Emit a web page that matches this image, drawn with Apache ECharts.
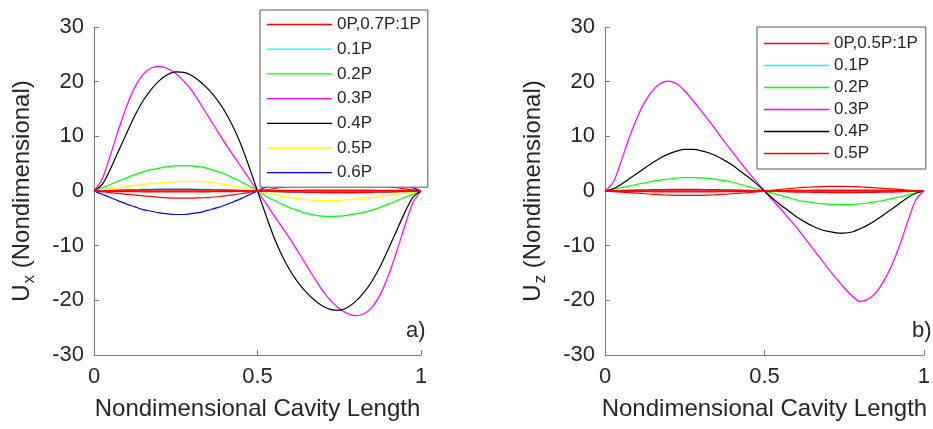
<!DOCTYPE html>
<html>
<head>
<meta charset="utf-8">
<script src="https://cdn.jsdelivr.net/npm/echarts@6/dist/echarts.min.js"></script>
<style>html,body{margin:0;padding:0;background:#fff;}#c{width:933px;height:429px;}</style>
</head>
<body>
<div id="c"></div>
<script>
// Nondimensional cavity length sample positions
const xs = [0,0.025,0.05,0.075,0.1,0.125,0.15,0.175,0.2,0.225,0.25,0.275,0.3,0.325,0.35,0.375,0.4,0.425,0.45,0.475,0.5,
            0.525,0.55,0.575,0.6,0.625,0.65,0.675,0.7,0.725,0.75,0.775,0.8,0.825,0.85,0.875,0.9,0.925,0.95,0.975,1];
const xTicks = [0, 0.5, 1];
const yTicks = [-30, -20, -10, 0, 10, 20, 30];

// ---- Panel a) U_x ----
const a_names = ['0P,0.7P:1P','0.1P','0.2P','0.3P','0.4P','0.5P','0.6P'];
const a_0P  = [0,0,0,0,0,0,0,0,0,0,0,0,0,0,0,0,0,0,0,0,0,0,0,0,0,0,0,0,0,0,0,0,0,0,0,0,0,0,0,0,0];
const a_07P = [0,-0.15,-0.3,-0.45,-0.6,-0.75,-0.9,-1.0,-1.15,-1.25,-1.3,-1.3,-1.3,-1.25,-1.2,-1.05,-0.9,-0.7,-0.5,-0.25,0,
               0.2,0.45,0.7,0.9,1.05,1.2,1.35,1.45,1.55,1.6,1.6,1.5,1.4,1.2,1.0,0.8,0.6,0.4,0.2,0];
const a_08P = [0,0.05,0.1,0.15,0.2,0.2,0.25,0.25,0.3,0.3,0.3,0.3,0.3,0.25,0.25,0.2,0.2,0.15,0.1,0.05,0,
               -0.05,-0.1,-0.15,-0.2,-0.2,-0.25,-0.25,-0.3,-0.3,-0.3,-0.3,-0.3,-0.25,-0.25,-0.2,-0.2,-0.15,-0.1,-0.05,0];
const a_09P = [0,-0.05,-0.05,-0.1,-0.1,-0.1,-0.15,-0.15,-0.15,-0.15,-0.15,-0.15,-0.15,-0.15,-0.15,-0.1,-0.1,-0.1,-0.05,-0.05,0,
               0.05,0.05,0.1,0.1,0.1,0.15,0.15,0.15,0.15,0.15,0.15,0.15,0.15,0.15,0.1,0.1,0.1,0.05,0.05,0];
const a_01P = [0,0.05,0.1,0.15,0.2,0.25,0.3,0.3,0.35,0.35,0.35,0.35,0.35,0.3,0.3,0.25,0.2,0.15,0.1,0.05,0,
               -0.05,-0.1,-0.15,-0.2,-0.25,-0.3,-0.3,-0.35,-0.35,-0.35,-0.35,-0.35,-0.3,-0.3,-0.25,-0.2,-0.15,-0.1,-0.05,0];
const a_02P = [0,0.6,1.2,1.8,2.4,3.0,3.5,3.9,4.2,4.45,4.6,4.65,4.6,4.4,4.1,3.6,3.1,2.4,1.7,0.9,0,
               -0.9,-1.7,-2.4,-3.1,-3.6,-4.1,-4.4,-4.6,-4.65,-4.6,-4.45,-4.2,-3.9,-3.5,-3.0,-2.4,-1.8,-1.2,-0.6,0];
const a_03P = [0,2.2,6.5,11.2,15.5,19.0,21.3,22.5,22.8,22.4,21.5,20.1,18.3,16.0,13.6,11.2,8.8,6.6,4.4,2.2,0,
               -2.2,-4.4,-6.6,-8.8,-11.2,-13.6,-16.0,-18.3,-20.1,-21.5,-22.4,-22.8,-22.5,-21.3,-19.0,-15.5,-11.2,-6.5,-2.2,0];
const a_04P = [0,1.2,4.0,7.3,10.6,13.8,16.5,18.6,20.2,21.3,21.8,21.7,21.1,20.0,18.6,16.8,14.6,11.8,8.4,4.3,0,
               -4.3,-8.4,-11.8,-14.6,-16.8,-18.6,-20.0,-21.1,-21.7,-21.8,-21.3,-20.2,-18.6,-16.5,-13.8,-10.6,-7.3,-4.0,-1.2,0];
const a_05P = [0,0.2,0.4,0.6,0.8,1.0,1.2,1.35,1.5,1.6,1.7,1.75,1.75,1.7,1.6,1.4,1.2,0.95,0.6,0.3,0,
               -0.3,-0.6,-0.95,-1.2,-1.4,-1.6,-1.7,-1.75,-1.75,-1.7,-1.6,-1.5,-1.35,-1.2,-1.0,-0.8,-0.6,-0.4,-0.2,0];
const a_06P = [0,-0.6,-1.2,-1.8,-2.4,-2.9,-3.4,-3.7,-4.0,-4.2,-4.3,-4.3,-4.1,-3.9,-3.5,-3.1,-2.6,-2.0,-1.4,-0.7,0,
               0.7,1.4,2.0,2.6,3.1,3.5,3.9,4.1,4.3,4.3,4.2,4.0,3.7,3.4,2.9,2.4,1.8,1.2,0.6,0];

// ---- Panel b) U_z ----
const b_names = ['0P,0.5P:1P','0.1P','0.2P','0.3P','0.4P','0.5P'];
const b_0P  = [0,0,0,0,0,0,0,0,0,0,0,0,0,0,0,0,0,0,0,0,0,0,0,0,0,0,0,0,0,0,0,0,0,0,0,0,0,0,0,0,0];
const b_06P = [0,0.05,0.1,0.15,0.2,0.2,0.25,0.25,0.3,0.3,0.3,0.3,0.3,0.25,0.25,0.2,0.2,0.15,0.1,0.05,0,
               -0.05,-0.1,-0.15,-0.2,-0.2,-0.25,-0.25,-0.3,-0.3,-0.3,-0.3,-0.3,-0.25,-0.25,-0.2,-0.2,-0.15,-0.1,-0.05,0];
const b_07P = [0,-0.05,-0.05,-0.1,-0.1,-0.1,-0.15,-0.15,-0.15,-0.15,-0.15,-0.15,-0.15,-0.15,-0.15,-0.1,-0.1,-0.1,-0.05,-0.05,0,
               0.05,0.05,0.1,0.1,0.1,0.15,0.15,0.15,0.15,0.15,0.15,0.15,0.15,0.15,0.1,0.1,0.1,0.05,0.05,0];
const b_01P = [0,0.02,0.05,0.07,0.1,0.12,0.15,0.17,0.18,0.2,0.2,0.2,0.2,0.18,0.17,0.15,0.12,0.1,0.07,0.04,0,
               -0.04,-0.07,-0.1,-0.12,-0.15,-0.17,-0.18,-0.2,-0.2,-0.2,-0.2,-0.18,-0.17,-0.15,-0.12,-0.1,-0.07,-0.05,-0.02,0];
const b_02P = [0,0.3,0.6,0.9,1.2,1.5,1.8,2.0,2.2,2.35,2.45,2.45,2.4,2.3,2.1,1.9,1.6,1.2,0.8,0.4,0,
               -0.4,-0.8,-1.2,-1.6,-1.9,-2.1,-2.3,-2.4,-2.45,-2.5,-2.45,-2.35,-2.2,-1.95,-1.7,-1.4,-1.05,-0.7,-0.35,0];
const b_03P = [0,1.5,5.3,9.6,13.3,16.3,18.4,19.7,20.1,19.6,18.3,16.6,14.8,12.9,11.0,9.0,7.1,5.2,3.4,1.7,0,
               -1.6,-3.2,-4.9,-6.6,-8.5,-10.4,-12.3,-14.2,-16.0,-17.7,-19.2,-20.2,-19.8,-18.6,-16.4,-13.5,-9.8,-5.5,-1.6,0];
const b_04P = [0,0.4,1.2,2.2,3.2,4.2,5.2,6.1,6.8,7.3,7.6,7.6,7.4,7.0,6.4,5.6,4.7,3.6,2.5,1.3,0,
               -1.3,-2.5,-3.6,-4.7,-5.6,-6.4,-7.0,-7.4,-7.65,-7.7,-7.5,-6.9,-6.2,-5.3,-4.3,-3.3,-2.2,-1.2,-0.4,0];
const b_05P = [0,-0.1,-0.2,-0.3,-0.4,-0.5,-0.6,-0.7,-0.75,-0.8,-0.8,-0.8,-0.8,-0.75,-0.7,-0.6,-0.5,-0.4,-0.3,-0.15,0,
               0.15,0.3,0.42,0.55,0.65,0.72,0.8,0.84,0.85,0.85,0.82,0.76,0.68,0.58,0.48,0.38,0.28,0.18,0.09,0];

const FONT = 'Liberation Sans, Arial, Helvetica, sans-serif';
const pts = arr => xs.map((x, i) => [x, arr[i]]);
const PREFIX = 'b:';

function line(name, arr, color, idx, width) {
  return {
    name: name, type: 'line', xAxisIndex: idx, yAxisIndex: idx,
    data: pts(arr), smooth: 0.3, symbol: 'none', showSymbol: false,
    lineStyle: { color: color, width: width || 1.2 }, itemStyle: { color: color },
    emphasis: { disabled: true }, silent: true
  };
}

const AXC = '#7a7a7a';
function xAxis(idx) {
  return {
    gridIndex: idx, type: 'value', min: xTicks[0], max: xTicks[xTicks.length-1], interval: 0.5,
    axisLine: { show: true, onZero: false, lineStyle: { color: AXC, width: 1 } },
    axisTick: { show: true, inside: true, length: 5, lineStyle: { color: AXC } },
    axisLabel: { fontSize: 22, color: '#262626', fontFamily: FONT, margin: 11 },
    splitLine: { show: false },
    name: 'Nondimensional Cavity Length', nameLocation: 'middle', nameGap: 42,
    nameTextStyle: { fontSize: 24, color: '#262626', fontFamily: FONT }
  };
}
function yAxis(idx, sub) {
  return {
    gridIndex: idx, type: 'value', min: yTicks[0], max: yTicks[yTicks.length-1], interval: 10,
    axisLine: { show: true, onZero: false, lineStyle: { color: AXC, width: 1 } },
    axisTick: { show: true, inside: true, length: 5, lineStyle: { color: AXC } },
    axisLabel: { fontSize: 22, color: '#262626', fontFamily: FONT, margin: 10 },
    splitLine: { show: false },
    name: '{m|U}{s|' + sub + '}{m| (Nondimensional)}', nameLocation: 'middle', nameGap: 54, nameRotate: 90,
    nameTextStyle: {
      fontFamily: FONT, color: '#262626',
      rich: {
        m: { fontSize: 24, fontFamily: FONT, color: '#262626', lineHeight: 30, verticalAlign: 'top', padding: [0,0,0,0] },
        s: { fontSize: 17, fontFamily: FONT, color: '#262626', lineHeight: 30, verticalAlign: 'top', padding: [11,0,0,1] }
      }
    }
  };
}

const series = [
  line('0.1P', a_01P, '#00ffff', 0),
  line('0.2P', a_02P, '#00ff00', 0),
  line('0.3P', a_03P, '#ff00ff', 0),
  line('0.4P', a_04P, '#000000', 0),
  line('0.5P', a_05P, '#ffff00', 0),
  line('0.6P', a_06P, '#0000ff', 0),
  line('0P,0.7P:1P', a_0P, '#ff0000', 0, 1.6),
  line('0P,0.7P:1P', a_07P, '#ff0000', 0),
  line('0P,0.7P:1P', a_08P, '#ff0000', 0),
  line('0P,0.7P:1P', a_09P, '#ff0000', 0),
  line(PREFIX + '0.1P', b_01P, '#00ffff', 1),
  line(PREFIX + '0.2P', b_02P, '#00ff00', 1),
  line(PREFIX + '0.3P', b_03P, '#ff00ff', 1),
  line(PREFIX + '0.4P', b_04P, '#000000', 1),
  line(PREFIX + '0.5P', b_05P, '#ff0000', 1),
  line(PREFIX + '0P,0.5P:1P', b_0P, '#ff0000', 1, 1.6),
  line(PREFIX + '0P,0.5P:1P', b_06P, '#ff0000', 1),
  line(PREFIX + '0P,0.5P:1P', b_07P, '#ff0000', 1)
];

function legend(names, left, top, pad, gap) {
  return {
    data: names.map(n => ({ name: n, icon: 'rect' })), orient: 'vertical', left: left, top: top,
    itemWidth: 65, itemHeight: 1.3, itemGap: gap, padding: pad,
    backgroundColor: '#ffffff', borderColor: '#555555', borderWidth: 1,
    textStyle: { fontSize: 17, color: '#262626', fontFamily: FONT, lineHeight: 16 },
    formatter: n => n.indexOf(PREFIX) === 0 ? n.slice(PREFIX.length) : n,
    selectedMode: false
  };
}

const chart = echarts.init(document.getElementById('c'), null, { renderer: 'canvas' });
chart.setOption({
  animation: false,
  backgroundColor: '#ffffff',
  grid: [
    { left: 94, top: 27, width: 327, height: 328 },
    { left: 605, top: 27, width: 325, height: 328 }
  ],
  xAxis: [xAxis(0), xAxis(1)],
  yAxis: [yAxis(0, 'x'), yAxis(1, 'z')],
  legend: [
    legend(a_names, 260, 10, [6, 7, 6, 7], 7.7),
    legend(b_names.map(n => PREFIX + n), 757, 27, [8, 8, 7, 7], 5)
  ],
  graphic: [
    { type: 'text', left: 406, top: 320, style: { text: 'a)', fontSize: 22, fontFamily: FONT, fill: '#262626' } },
    { type: 'text', left: 912, top: 320, style: { text: 'b)', fontSize: 22, fontFamily: FONT, fill: '#262626' } }
  ],
  series: series
});
</script>
</body>
</html>
